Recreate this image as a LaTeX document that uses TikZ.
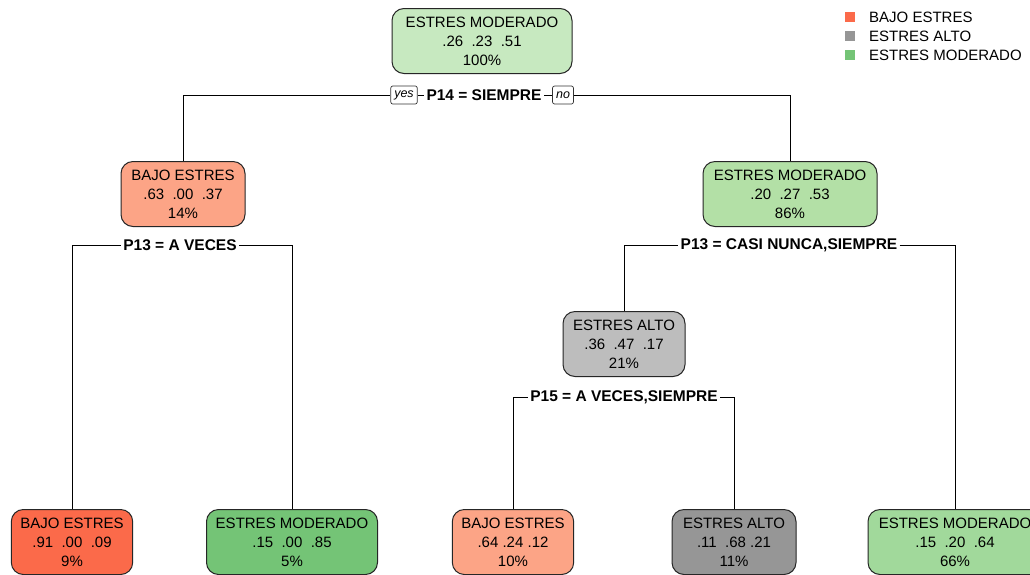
\documentclass[tikz,border=0pt]{standalone}
\usepackage{fontspec}
\setmainfont{Liberation Sans}
\usetikzlibrary{backgrounds}
\definecolor{cRoot}{HTML}{C7E9C0}
\definecolor{cMod}{HTML}{B3E0A6}
\definecolor{cMod2}{HTML}{A1D99B}
\definecolor{cMod3}{HTML}{74C476}
\definecolor{cBajo}{HTML}{FCA486}
\definecolor{cBajo2}{HTML}{FB6A4A}
\definecolor{cAlto}{HTML}{BDBDBD}
\definecolor{cAlto2}{HTML}{969696}
\tikzset{
  treebox/.style={draw=black!85, line width=1pt, rounded corners=12pt, align=center,
    inner xsep=9pt, minimum height=65pt, font=\fontsize{15}{19}\selectfont},
  splitlbl/.style={fill=white, inner xsep=2pt, inner ysep=1pt, font=\fontsize{15.5}{18}\selectfont\bfseries},
  yn/.style={draw=black!80, fill=white, line width=0.7pt, rounded corners=2pt, inner xsep=3.5pt,
    minimum height=18pt, font=\fontsize{12.5}{13}\selectfont\itshape},
  conn/.style={line width=0.9pt, black},
  legsq/.style={minimum size=10pt, inner sep=0pt},
  legtx/.style={anchor=west, inner sep=0pt, font=\fontsize{15}{18}\selectfont}
}
\begin{document}
\begin{tikzpicture}[x=1pt,y=-1pt]
\clip (0,0) rectangle (1030,574);
% nodes
\node[treebox, fill=cRoot, minimum width=180pt] (root) at (482,41) {ESTRES MODERADO\\.26~~.23~~.51\\100\%};
\node[yn] (yes) at (404,95) {yes};
\node[splitlbl] (p14) at (484,95) {P14 = SIEMPRE};
\node[yn] (no) at (563,95) {no};

\node[treebox, fill=cBajo, minimum width=124pt] (L) at (183,194) {BAJO ESTRES\\.63~~.00~~.37\\14\%};
\node[treebox, fill=cMod, minimum width=174pt] (R) at (790,194) {ESTRES MODERADO\\.20~~.27~~.53\\86\%};

\node[splitlbl] (p13a) at (180,245) {P13 = A VECES};
\node[splitlbl] (p13b) at (789,245) {P13 = CASI NUNCA,SIEMPRE};

\node[treebox, fill=cAlto, minimum width=122pt] (A) at (624,344) {ESTRES ALTO\\.36~~.47~~.17\\21\%};
\node[splitlbl] (p15) at (624,397) {P15 = A VECES,SIEMPRE};

\node[treebox, fill=cBajo2, minimum width=119pt] (l1) at (72,542) {BAJO ESTRES\\.91~~.00~~.09\\9\%};
\node[treebox, fill=cMod3, minimum width=171pt] (l2) at (292,542) {ESTRES MODERADO\\.15~~.00~~.85\\5\%};
\node[treebox, fill=cBajo, minimum width=121pt] (l3) at (513,542) {BAJO ESTRES\\.64~.24~.12\\10\%};
\node[treebox, fill=cAlto2, minimum width=124pt] (l4) at (734,542) {ESTRES ALTO\\.11~~.68~.21\\11\%};
\node[treebox, fill=cMod2, minimum width=174pt] (l5) at (955,542) {ESTRES MODERADO\\.15~~.20~~.64\\66\%};

% legend
\node[legsq, fill=cBajo2] (k1) at (850,17) {};
\node[legsq, fill=cAlto2] (k2) at (850,36) {};
\node[legsq, fill=cMod3] (k3) at (850,55) {};
\node[legtx] (t1) at (869,17) {BAJO ESTRES};
\node[legtx] (t2) at (869,36) {ESTRES ALTO};
\node[legtx] (t3) at (869,55) {ESTRES MODERADO};

% connectors
\begin{scope}[on background layer]
\fill[white] (0,0) rectangle (1030,574);
\draw[conn] (L.north) |- (yes.west);
\draw[conn] (yes.east) -- (p14.west);
\draw[conn] (p14.east) -- (no.west);
\draw[conn] (no.east) -| (R.north);
\draw[conn] (l1.north) |- (p13a.west);
\draw[conn] (p13a.east) -| (l2.north);
\draw[conn] (A.north) |- (p13b.west);
\draw[conn] (p13b.east) -| (l5.north);
\draw[conn] (l3.north) |- (p15.west);
\draw[conn] (p15.east) -| (l4.north);
\end{scope}
\end{tikzpicture}
\end{document}
